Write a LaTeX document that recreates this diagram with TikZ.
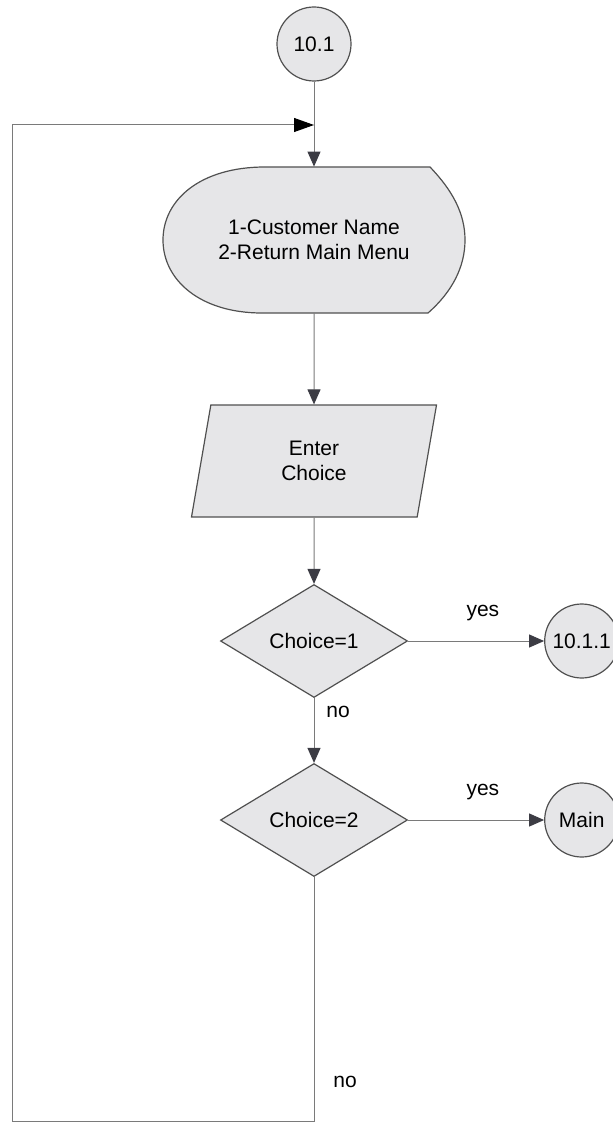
\documentclass[tikz,border=0pt]{standalone}
\usepackage{fontspec}
\setmainfont{Liberation Sans}
\usetikzlibrary{positioning,arrows.meta,shapes.geometric}
\definecolor{shapefill}{HTML}{E6E6E8}
\definecolor{shapeline}{HTML}{505050}
\definecolor{flowline}{HTML}{7A7A7A}
\definecolor{tipdark}{HTML}{3C3C44}

\begin{document}
\begin{tikzpicture}[
    x=0.5pt, y=-0.5pt,
    every node/.style={font=\fontsize{10.5}{12.5}\selectfont},
    shapebox/.style={draw=shapeline, fill=shapefill, line width=0.6pt},
    connector/.style={circle, shapebox, minimum size=37pt, inner sep=0pt},
    decision/.style={diamond, shapebox, minimum width=93.5pt,
                     minimum height=56.5pt, inner sep=0pt},
    inputbox/.style={trapezium, trapezium left angle=64, trapezium right angle=116,
                     trapezium stretches body, shapebox, minimum width=122.5pt,
                     minimum height=56pt, align=center, inner sep=0pt},
    arrow/.style={-{Triangle[length=7.5pt,width=6.5pt,color=tipdark]},
                  draw=flowline, line width=0.5pt},
    looparrow/.style={arrow, -{Triangle[length=10pt,width=7pt,color=black]}}
]
\useasboundingbox (0,0) rectangle (613,1123);

% display shape behind the menu text
\draw[shapebox] (265,167) -- (430,167) .. controls (452,190) and (465,213) .. (465,240)
  .. controls (465,267) and (452,292) .. (428,313) -- (262,313)
  .. controls (200,313) and (163,280) .. (163,240)
  .. controls (163,200) and (200,167) .. (265,167) -- cycle;

\node[connector] (c101) at (314,44) {10.1};
\coordinate (loopin) at (314,125);
\node[minimum width=151pt, minimum height=73pt, inner sep=0pt, align=center]
     (menu) at (314,240) {1-Customer Name\\2-Return Main Menu};
\node[inputbox] (choice) at (314,461) {Enter\\Choice};
\node[decision] (d1) at (314,641) {Choice=1};
\node[decision] (d2) at (314,820) {Choice=2};
\node[connector, right=68pt of d1] (c1011) {10.1.1};
\node[connector, right=68pt of d2] (main) {Main};
\coordinate (loopbl) at (12,1121);

\draw[arrow] (c101) -- (menu);
\draw[arrow] (menu) -- (choice);
\draw[arrow] (choice) -- (d1);
\draw[arrow] (d1) -- node[pos=0.22, xshift=12pt]{no} (d2);
\draw[arrow] (d1) -- node[pos=0.55, yshift=14pt]{yes} (c1011);
\draw[arrow] (d2) -- node[pos=0.55, yshift=14pt]{yes} (main);
\draw[looparrow] (d2) |- node[pos=0.42, xshift=15.5pt]{no} (loopbl) |- (loopin);
\end{tikzpicture}
\end{document}
